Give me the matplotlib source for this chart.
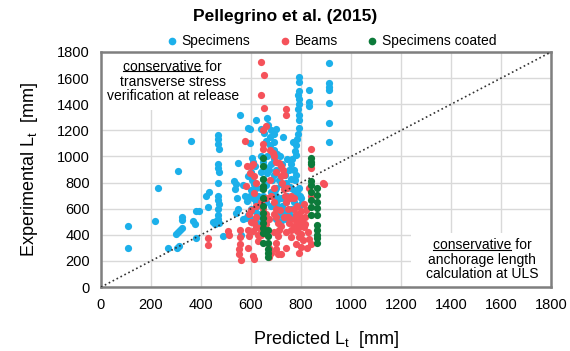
import matplotlib
matplotlib.use('Agg')
import matplotlib.pyplot as plt
from matplotlib.lines import Line2D
from matplotlib.patches import Rectangle

plt.rcParams['font.family'] = ['Liberation Sans', 'DejaVu Sans']

# Specimens (predicted, experimental) in mm
spec_x = [110, 110, 215, 228, 310, 362, 268, 300, 308, 316, 326, 305, 312, 326, 326, 370, 378, 380, 392, 380,
          432, 448, 460, 470, 470, 470, 472, 468, 470, 472, 470, 468, 470, 472, 470, 468, 470, 474, 490, 455,
          533, 540, 535, 545, 540, 550, 557, 576, 567, 560, 580, 590, 597, 597, 605, 610, 615, 600, 590, 605,
          612, 620, 600, 595, 610, 620, 625, 600, 615, 630, 640, 600, 620, 640, 640, 653, 666, 680, 690, 700,
          660, 675, 690, 705, 680, 700, 665, 690, 710, 720, 700, 680, 700, 720, 740, 700, 680, 710, 730, 750,
          760, 740, 720, 700, 745, 760, 770, 780, 760, 740, 755, 770, 785, 795, 800, 770, 790, 760,
          790, 790, 790, 788, 790, 790, 788, 790, 790, 790, 788, 785, 780, 775, 780,
          830, 830, 830, 912, 912, 912, 912, 912, 912, 912,
          664, 728, 768, 588, 620, 548, 420, 430, 640, 650, 660, 640, 650, 660, 630, 725, 735, 715, 690, 650, 640,
          670, 685, 695, 705, 715, 725, 745, 760, 775, 790, 800, 655, 665, 675, 690, 735, 750, 765, 570, 585]
spec_y = [470, 300, 505, 760, 890, 1115, 300, 410, 425, 440, 450, 300, 315, 515, 540, 505, 480, 585, 585, 375,
          730, 500, 505, 1165, 1130, 1095, 1060, 945, 915, 880, 800, 700, 670, 640, 595, 555, 520, 490, 390, 480,
          810, 790, 750, 685, 570, 600, 1320, 700, 520, 400, 530, 550, 1210, 1105, 990, 960, 930, 880, 850, 820,
          790, 760, 740, 700, 680, 650, 620, 600, 580, 560, 540, 520, 500, 480, 1210, 1180, 1240, 1200, 1170, 1210,
          1120, 1090, 1050, 1020, 940, 900, 870, 860, 820, 790, 760, 730, 700, 680, 650, 640, 620, 600, 580, 560,
          540, 520, 505, 520, 980, 940, 900, 860, 830, 800, 770, 740, 720, 700, 680, 650, 620, 600,
          1610, 1570, 1500, 1470, 1440, 1400, 1360, 1320, 1280, 1220, 1170, 1130, 1090, 1040, 1010,
          1510, 1420, 1390, 1716, 1563, 1532, 1509, 1409, 1256, 1111,
          1295, 1150, 1110, 1218, 1280, 953, 700, 610, 880, 830, 780, 760, 700, 650, 700, 940, 880, 1000, 980, 960, 1000,
          900, 820, 740, 670, 560, 620, 700, 760, 820, 760, 640, 920, 1000, 1150, 1110, 860, 900, 980, 780, 660]

# Beams
beam_x = [640, 653, 640, 653, 740, 740, 660, 648, 647, 650, 840, 687, 607, 600, 720, 727, 700, 580, 613, 620,
          613, 720, 725, 730, 735, 740, 747, 840, 893, 886, 833, 840, 427, 427, 507, 513, 553, 553, 560, 587,
          587, 593, 613, 620, 607, 613, 627, 633, 627, 673, 680, 673, 700, 707, 713, 707, 700, 700, 707, 747,
          753, 760, 773, 780, 787, 793, 800, 807, 800, 793, 827, 833, 840, 650, 660, 670, 660, 680, 690, 660,
          640, 620, 600, 760, 770, 810, 820, 815, 800, 790, 556, 556, 556, 592, 600, 620, 585, 595, 576, 676,
          690, 700, 676, 690, 712, 730, 745, 756, 770, 784, 800, 810, 824, 700, 690, 720, 740, 760, 780, 740, 720,
          770, 785, 795, 805, 815, 730, 715, 690, 640, 610]
beam_y = [1720, 1620, 1470, 1370, 1360, 1315, 1230, 1200, 1095, 1055, 1060, 1030, 940, 925, 925, 900, 960, 775, 850, 800,
          720, 850, 800, 750, 700, 650, 600, 915, 790, 800, 760, 700, 375, 325, 430, 400, 290, 250, 210, 300,
          440, 390, 490, 540, 240, 215, 400, 450, 350, 300, 260, 230, 540, 490, 440, 390, 340, 290, 250, 540,
          490, 440, 600, 560, 500, 460, 410, 360, 310, 260, 420, 370, 330, 600, 560, 520, 480, 700, 650, 680,
          650, 620, 590, 700, 680, 640, 590, 540, 500, 380, 435, 380, 330, 560, 500, 460, 930, 870, 1116, 1050,
          1000, 880, 820, 760, 950, 860, 760, 680, 520, 620, 580, 460, 300, 600, 560, 470, 420, 380, 330, 300, 250,
          470, 430, 540, 520, 480, 540, 590, 420, 400, 430]

# Specimens coated
coat_x = [650, 650, 650, 650, 650, 650, 650, 650, 650, 650, 650, 650, 650,
          668, 668, 668, 668, 668, 668,
          838, 838, 838, 838, 838, 838, 838, 838, 838,
          862, 862, 862, 862, 862, 862, 862, 862, 862, 862]
coat_y = [990, 930, 825, 775, 750, 685, 620, 570, 530, 490, 455, 415, 340,
          440, 390, 340, 290, 260, 230,
          990, 960, 940, 810, 780, 730, 665, 610, 550,
          760, 705, 650, 605, 550, 475, 440, 400, 375, 340]

blue = '#1CB0EA'
red = '#F5525A'
green = '#0C7A3A'

fig = plt.figure(figsize=(5.70, 3.51), dpi=100)
ax = fig.add_axes([0.177, 0.182, 0.79, 0.670])

ax.scatter(spec_x, spec_y, s=27, color=blue, linewidths=0, zorder=3)
ax.scatter(beam_x, beam_y, s=27, color=red, linewidths=0, zorder=3)
ax.scatter(coat_x, coat_y, s=27, color=green, linewidths=0, zorder=3)

ax.plot([0, 1800], [0, 1800], color='#333333', linestyle=':', linewidth=1.2, zorder=4)

ax.set_xlim(0, 1800)
ax.set_ylim(0, 1800)
ax.set_xticks(range(0, 1801, 200))
ax.set_yticks(range(0, 1801, 200))
ax.tick_params(length=0, labelsize=10.5, pad=8)
ax.grid(True, color='#D9D9D9', linewidth=1, zorder=0)
ax.set_axisbelow(True)
for sp in ax.spines.values():
    sp.set_color('#7F7F7F')
    sp.set_linewidth(1.8)

ax.set_xlabel(r'Predicted L$_\mathregular{t}$  [mm]', fontsize=13, labelpad=12)
ax.set_ylabel(r'Experimental L$_\mathregular{t}$  [mm]', fontsize=13, labelpad=12)

# white boxes hiding the grid behind the notes
ax.add_patch(Rectangle((0, 1356), 556, 444, facecolor='white', edgecolor='none', zorder=1))
ax.add_patch(Rectangle((1240, 0), 560, 414, facecolor='white', edgecolor='none', zorder=1))

fs = 10
t1 = ax.text(287, 1687, 'conservative for', ha='center', va='center', fontsize=fs, zorder=5)
ax.text(287, 1573, 'transverse stress', ha='center', va='center', fontsize=fs, zorder=5)
ax.text(287, 1463, 'verification at release', ha='center', va='center', fontsize=fs, zorder=5)
t2 = ax.text(1523, 322, 'conservative for', ha='center', va='center', fontsize=fs, zorder=5)
ax.text(1523, 207, 'anchorage length', ha='center', va='center', fontsize=fs, zorder=5)
ax.text(1523, 100, 'calculation at ULS', ha='center', va='center', fontsize=fs, zorder=5)

fig.suptitle('Pellegrino et al. (2015)', fontsize=12.5, fontweight='bold', y=0.973)

handles = [Line2D([], [], marker='o', linestyle='', color=c, markersize=4.5)
           for c in (blue, red, green)]
fig.legend(handles, ['Specimens', 'Beams', 'Specimens coated'], loc='center',
           bbox_to_anchor=(0.58, 0.882), ncol=3, frameon=False, fontsize=10,
           handletextpad=0.2, columnspacing=2.0, handlelength=1.0)

# underline the word "conservative"
fig.canvas.draw()
r = fig.canvas.get_renderer()
for t in (t1, t2):
    bb = t.get_window_extent(r)
    tmp = ax.text(0, 0, 'conservative', fontsize=fs)
    w = tmp.get_window_extent(r).width
    tmp.remove()
    y = bb.y0 + 2.5
    fig.add_artist(Line2D([bb.x0 / fig.bbox.width, (bb.x0 + w) / fig.bbox.width],
                          [y / fig.bbox.height, y / fig.bbox.height],
                          color='black', linewidth=0.8, transform=fig.transFigure))

fig.savefig('out.png', dpi=100)
